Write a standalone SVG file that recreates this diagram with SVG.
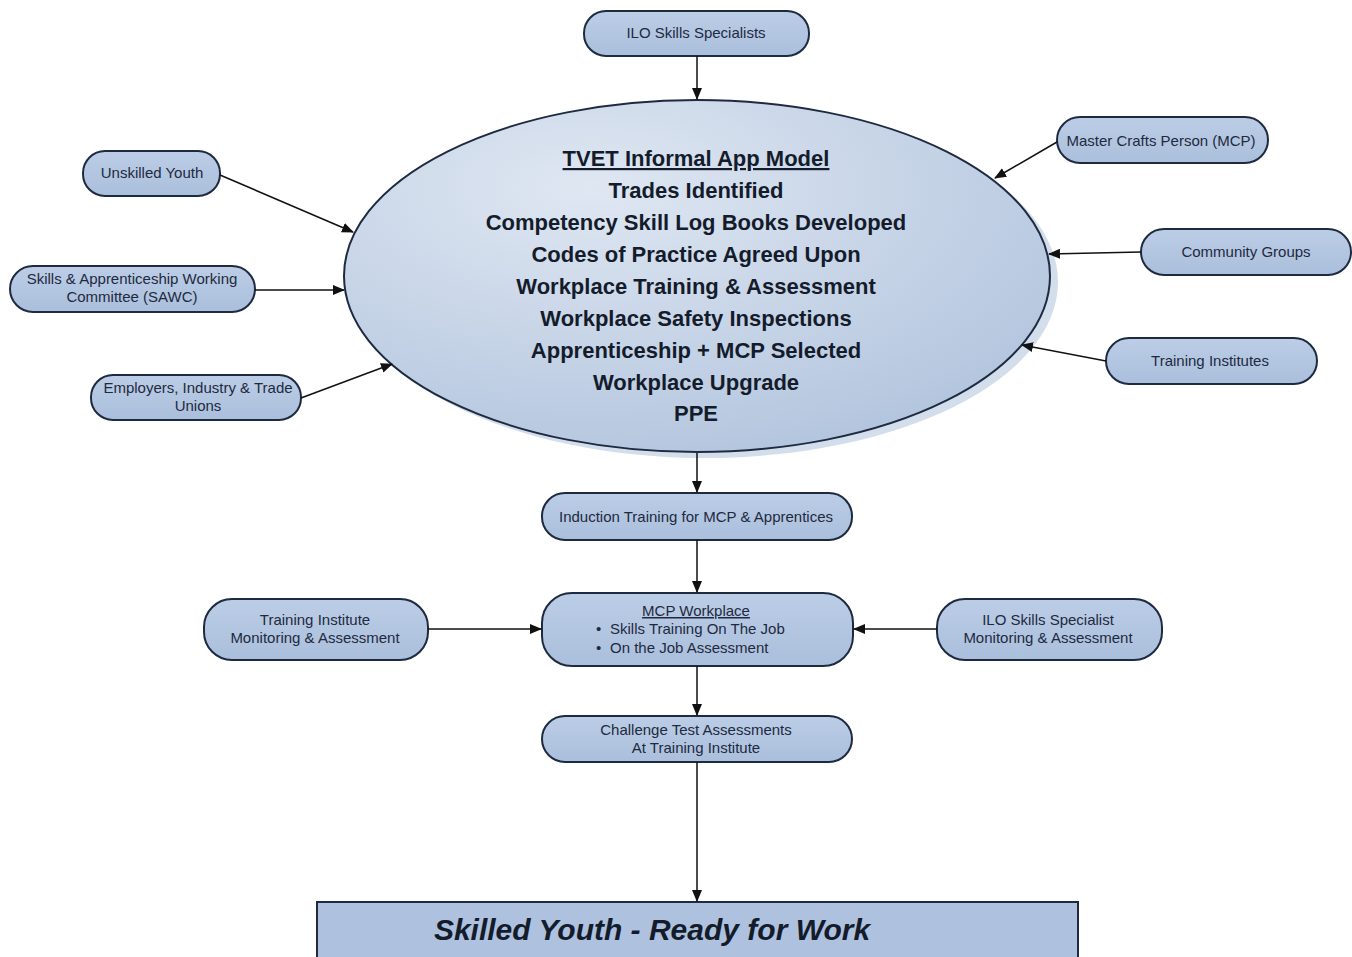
<svg xmlns="http://www.w3.org/2000/svg" width="1352" height="957" viewBox="0 0 1352 957">
<defs>
<marker id="ah" markerWidth="12" markerHeight="10" refX="11" refY="5" orient="auto" markerUnits="userSpaceOnUse">
<path d="M0,0 L12,5 L0,10 Z" fill="#111"/>
</marker>
<radialGradient id="eg" cx="0.35" cy="0.25" r="0.8">
<stop offset="0" stop-color="#dfe7f2"/>
<stop offset="1" stop-color="#b3c5de"/>
</radialGradient>
<linearGradient id="pg" x1="0" y1="0" x2="0" y2="1">
<stop offset="0" stop-color="#bccde6"/>
<stop offset="1" stop-color="#aabfdc"/>
</linearGradient>
</defs>
<style>
.pill{fill:url(#pg);stroke:#1e2a40;stroke-width:2}
.t{font-family:"Liberation Sans",Arial,sans-serif;font-size:15px;fill:#1e2a40;text-anchor:middle}
.s{font-family:"Liberation Sans",Arial,sans-serif;font-size:15px;fill:#1e2a40;text-anchor:start}
.b{font-family:"Liberation Sans",Arial,sans-serif;font-size:22px;font-weight:bold;fill:#141c2c;text-anchor:middle}
.c{stroke:#111;stroke-width:1.5;fill:none;marker-end:url(#ah)}
</style>
<rect width="1352" height="957" fill="#fff"/>
<g id="ilo">
<rect class="pill" x="584" y="11" width="225" height="45" rx="22"/>
<text class="t" x="696" y="38">ILO Skills Specialists</text>
</g>
<g id="model">
<ellipse cx="705" cy="282" rx="353" ry="176" fill="#d3deec"/>
<ellipse cx="697" cy="276" rx="353" ry="176" fill="url(#eg)" stroke="#1e2a40" stroke-width="2"/>
<text class="b" x="696" y="166" text-decoration="underline">TVET Informal App Model</text>
<text class="b" x="696" y="198">Trades Identified</text>
<text class="b" x="696" y="230">Competency Skill Log Books Developed</text>
<text class="b" x="696" y="262">Codes of Practice Agreed Upon</text>
<text class="b" x="696" y="294">Workplace Training &amp; Assessment</text>
<text class="b" x="696" y="326">Workplace Safety Inspections</text>
<text class="b" x="696" y="358">Apprenticeship + MCP Selected</text>
<text class="b" x="696" y="390">Workplace Upgrade</text>
<text class="b" x="696" y="421">PPE</text>
</g>
<g id="unskilled">
<rect class="pill" x="83" y="151" width="137" height="45" rx="22"/>
<text class="t" x="152" y="178">Unskilled Youth</text>
</g>
<g id="sawc">
<rect class="pill" x="10" y="266" width="245" height="46" rx="23"/>
<text class="t" x="132" y="284">Skills &amp; Apprenticeship Working</text>
<text class="t" x="132" y="302">Committee (SAWC)</text>
</g>
<g id="employers">
<rect class="pill" x="91" y="375" width="210" height="45" rx="22"/>
<text class="t" x="198" y="393">Employers, Industry &amp; Trade</text>
<text class="t" x="198" y="411">Unions</text>
</g>
<g id="mcp">
<rect class="pill" x="1057" y="117" width="211" height="46" rx="23"/>
<text class="t" x="1161" y="146">Master Crafts Person (MCP)</text>
</g>
<g id="community">
<rect class="pill" x="1141" y="229" width="210" height="46" rx="23"/>
<text class="t" x="1246" y="257">Community Groups</text>
</g>
<g id="institutes">
<rect class="pill" x="1106" y="338" width="211" height="46" rx="23"/>
<text class="t" x="1210" y="366">Training Institutes</text>
</g>
<g id="induction">
<rect class="pill" x="542" y="493" width="310" height="47" rx="23"/>
<text class="t" x="696" y="522">Induction Training for MCP &amp; Apprentices</text>
</g>
<g id="workplace">
<rect class="pill" x="542" y="593" width="311" height="73" rx="30"/>
<text class="t" x="696" y="616" text-decoration="underline">MCP Workplace</text>
<text class="s" x="596" y="634">•</text>
<text class="s" x="610" y="634">Skills Training On The Job</text>
<text class="s" x="596" y="653">•</text>
<text class="s" x="610" y="653">On the Job Assessment</text>
</g>
<g id="tim">
<rect class="pill" x="204" y="599" width="224" height="61" rx="28"/>
<text class="t" x="315" y="625">Training Institute</text>
<text class="t" x="315" y="643">Monitoring &amp; Assessment</text>
</g>
<g id="ilom">
<rect class="pill" x="937" y="599" width="225" height="61" rx="28"/>
<text class="t" x="1048" y="625">ILO Skills Specialist</text>
<text class="t" x="1048" y="643">Monitoring &amp; Assessment</text>
</g>
<g id="challenge">
<rect class="pill" x="542" y="716" width="310" height="46" rx="23"/>
<text class="t" x="696" y="735">Challenge Test Assessments</text>
<text class="t" x="696" y="753">At Training Institute</text>
</g>
<g id="skilled">
<rect x="317" y="902" width="761" height="70" fill="#aec2df" stroke="#1e2a40" stroke-width="2"/>
<text x="652" y="940" font-family="'Liberation Sans',Arial,sans-serif" font-size="30" font-weight="bold" font-style="italic" fill="#141c2c" text-anchor="middle">Skilled Youth - Ready for Work</text>
</g>
<g id="connectors">
<line class="c" x1="697" y1="56" x2="697" y2="99"/>
<line class="c" x1="220" y1="175" x2="353" y2="232"/>
<line class="c" x1="255" y1="290" x2="344" y2="290"/>
<line class="c" x1="301" y1="398" x2="392" y2="364"/>
<line class="c" x1="1057" y1="142" x2="995" y2="178"/>
<line class="c" x1="1141" y1="252" x2="1049" y2="254"/>
<line class="c" x1="1106" y1="361" x2="1022" y2="345"/>
<line class="c" x1="697" y1="453" x2="697" y2="492"/>
<line class="c" x1="697" y1="540" x2="697" y2="592"/>
<line class="c" x1="428" y1="629" x2="541" y2="629"/>
<line class="c" x1="937" y1="629" x2="854" y2="629"/>
<line class="c" x1="697" y1="666" x2="697" y2="715"/>
<line class="c" x1="697" y1="762" x2="697" y2="901"/>
</g>
</svg>
